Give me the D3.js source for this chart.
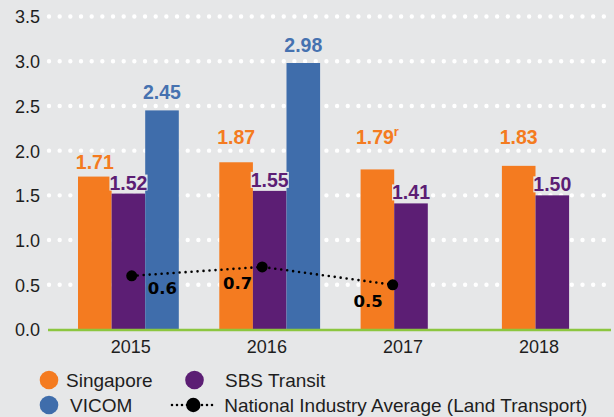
<!DOCTYPE html>
<html>
<head>
<meta charset="utf-8">
<script src="https://cdn.jsdelivr.net/npm/d3@7"></script>
<style>
  html, body { margin: 0; padding: 0; background: #e6e7e8; }
  svg { display: block; }
</style>
</head>
<body>
<svg id="chart" width="614" height="417"></svg>
<script>
// ---- data ----
const years = ["2015", "2016", "2017", "2018"];
const seriesNames = ["Singapore", "SBS Transit", "VICOM"];
const singapore = [1.71, 1.87, 1.79, 1.83];
const sbsTransit = [1.52, 1.55, 1.41, 1.50];
const vicom = [2.45, 2.98, null, null];
const singaporeNotes = ["", "", "r", ""];
const industryYears = ["2015", "2016", "2017"];
const industryAvg = [0.6, 0.7, 0.5];
const yTicks = [0, 0.5, 1.0, 1.5, 2.0, 2.5, 3.0, 3.5];
const legendLineName = "National Industry Average (Land Transport)";

// ---- styles ----
const colors = { "Singapore": "#f47b20", "SBS Transit": "#5c1e74", "VICOM": "#3f6dab" };
const labelColors = { "Singapore": "#f47b20", "SBS Transit": "#5c1e74", "VICOM": "#4672b0" };
const bg = "#e6e7e8";
const textColor = "#1e1e1e";
const baseFont = "'Liberation Sans', Arial, sans-serif";

const svg = d3.select("#chart");
svg.append("rect").attr("width", 614).attr("height", 417).attr("fill", bg);

// ---- scales ----
const y = d3.scaleLinear().domain([0, 3.5]).range([329.5, 16.5]);
const xGroup = d3.scaleBand().domain(years).range([78, 602.7]).paddingInner(0.2866).paddingOuter(0);
const xSeries = d3.scaleBand().domain(seriesNames).range([0, xGroup.bandwidth()]).padding(0);
const xTick = d3.scalePoint().domain(years).range([130.3, 538.5]);
const xLine = d3.scalePoint().domain(industryYears).range([131.7, 392.7]);

// ---- gridlines (dotted white) ----
const grid = svg.append("g");
grid.selectAll("line").data(yTicks.filter(d => d > 0)).join("line")
  .attr("x1", 49).attr("x2", 614)
  .attr("y1", d => y(d)).attr("y2", d => y(d))
  .attr("stroke", "#ffffff").attr("stroke-width", 4.4)
  .attr("stroke-linecap", "round").attr("stroke-dasharray", "0 10.67");

// ---- y axis labels ----
const yAxis = d3.axisLeft(y).tickValues(yTicks).tickFormat(d3.format(".1f")).tickSize(0).tickPadding(0);
const yG = svg.append("g").attr("transform", "translate(40,0)").call(yAxis);
yG.select(".domain").remove();
yG.selectAll("text").attr("font-family", baseFont).attr("font-size", 18).attr("fill", textColor)
  .attr("dy", "0.36em");

// ---- bars ----
const rows = years.map((yr, i) => ({
  year: yr,
  values: [
    { name: "Singapore", value: singapore[i], note: singaporeNotes[i] },
    { name: "SBS Transit", value: sbsTransit[i], note: "" },
    { name: "VICOM", value: vicom[i], note: "" }
  ].filter(d => d.value != null)
}));

const groups = svg.append("g").selectAll("g").data(rows).join("g")
  .attr("transform", d => `translate(${xGroup(d.year)},0)`);

groups.selectAll("rect").data(d => d.values).join("rect")
  .attr("x", d => xSeries(d.name))
  .attr("y", d => y(d.value))
  .attr("width", xSeries.bandwidth())
  .attr("height", d => y(0) - y(d.value))
  .attr("fill", d => colors[d.name]);

// ---- baseline ----
svg.append("line").attr("x1", 48).attr("x2", 611).attr("y1", y(0) + 0.5).attr("y2", y(0) + 0.5)
  .attr("stroke", "#8cc63f").attr("stroke-width", 2.6);

// ---- bar value labels ----
function labelBaseline(d, yearIndex) {
  if (d.name === "SBS Transit") return y(d.value) - 4;
  if (d.name === "VICOM") return y(d.value) - 11;
  // Singapore labels
  return yearIndex === 0 ? y(d.value) - 8 : y(2.0) - 7;
}
groups.each(function(row, gi) {
  const g = d3.select(this);
  row.values.forEach(d => {
    const lg = g.append("g");
    const t = lg.append("text")
      .attr("x", xSeries(d.name) + xSeries.bandwidth() / 2)
      .attr("y", labelBaseline(d, gi))
      .attr("text-anchor", "middle")
      .attr("font-family", baseFont).attr("font-weight", "bold").attr("font-size", 19.5)
      .attr("fill", labelColors[d.name])
      .text(d3.format(".2f")(d.value));
    if (d.note) {
      t.append("tspan").attr("font-size", 13).attr("dy", -8).text(d.note);
    }
    const bb = t.node().getBBox();
    lg.insert("rect", "text")
      .attr("x", bb.x).attr("y", bb.y + 3).attr("width", bb.width).attr("height", bb.height - 6)
      .attr("fill", bg);
  });
});

// ---- x axis labels ----
const xAxis = d3.axisBottom(xTick).tickSize(0).tickPadding(0);
const xG = svg.append("g").attr("transform", "translate(0,353)").call(xAxis);
xG.select(".domain").remove();
xG.selectAll("text").attr("font-family", baseFont).attr("font-size", 18).attr("fill", textColor)
  .attr("dy", 0);

// ---- industry average line ----
const linePts = industryYears.map((yr, i) => ({ year: yr, value: industryAvg[i] }));
const lineGen = d3.line().x(d => xLine(d.year)).y(d => y(d.value));
svg.append("path").datum(linePts).attr("d", lineGen)
  .attr("fill", "none").attr("stroke", "#000").attr("stroke-width", 2.6)
  .attr("stroke-linecap", "round").attr("stroke-dasharray", "0 6");
svg.append("g").selectAll("circle").data(linePts).join("circle")
  .attr("cx", d => xLine(d.year)).attr("cy", d => y(d.value)).attr("r", 5.5).attr("fill", "#000");
svg.append("g").selectAll("text").data(linePts).join("text")
  .attr("x", (d, i) => i === 0 ? xLine(d.year) + 16 : xLine(d.year) - 10)
  .attr("y", (d, i) => y(d.value) + (i === 0 ? 18 : 22))
  .attr("text-anchor", (d, i) => i === 0 ? "start" : "end")
  .attr("font-family", "'DejaVu Sans', sans-serif").attr("font-weight", "bold").attr("font-size", 16.5)
  .attr("fill", "#000")
  .text(d => d3.format(".1f")(d.value));

// ---- legend ----
const legend = svg.append("g").attr("font-family", baseFont).attr("font-size", 19).attr("fill", textColor);
const legendItems = [
  { name: "Singapore", cx: 49, cy: 380, tx: 66 },
  { name: "SBS Transit", cx: 194.5, cy: 380, tx: 225 },
  { name: "VICOM", cx: 49, cy: 405, tx: 70 }
];
legendItems.forEach(it => {
  legend.append("circle").attr("cx", it.cx).attr("cy", it.cy).attr("r", 9.3).attr("fill", colors[it.name]);
  legend.append("text").attr("x", it.tx).attr("y", it.cy + 6.7).text(it.name);
});
legend.append("line").attr("x1", 172).attr("x2", 213).attr("y1", 405).attr("y2", 405)
  .attr("stroke", "#000").attr("stroke-width", 2.6).attr("stroke-linecap", "round").attr("stroke-dasharray", "0 5");
legend.append("circle").attr("cx", 193.3).attr("cy", 405).attr("r", 7.2).attr("fill", "#000");
legend.append("text").attr("x", 224.3).attr("y", 411.7).text(legendLineName);
</script>
</body>
</html>
